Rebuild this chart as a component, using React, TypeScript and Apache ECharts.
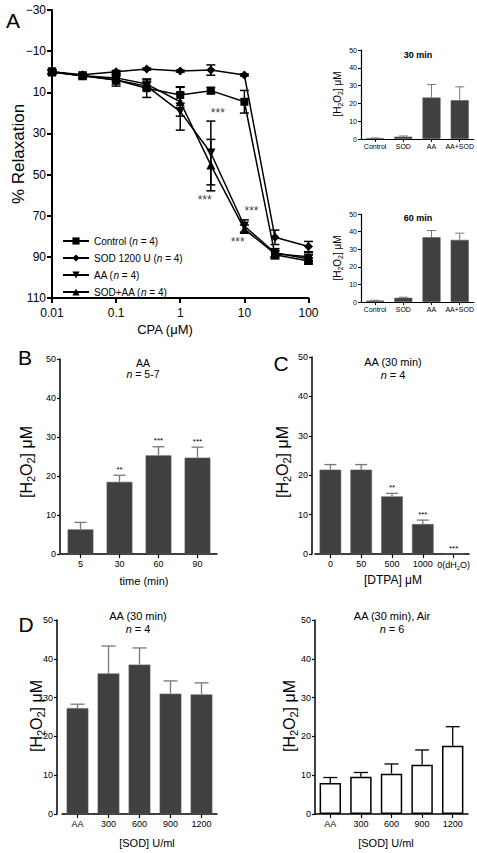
import React, { useEffect, useRef } from 'react';
import * as echarts from 'echarts';

// ---------- Panel A: relaxation curves ----------
const cpa = [0.01, 0.03, 0.1, 0.3, 1, 3, 10, 30, 100];
const controlMean = [0.3, 2, 4, 8, 11.3, 9.2, 14.6, 89, 92];
const controlErr = [1, 1, 2, 4.5, 4, 1.5, 5.5, 2, 1.5];
const sodMean = [0, 1.5, 0, -1.3, -0.3, -0.8, 1.6, 80.5, 85];
const sodErr = [0.8, 0.5, 0.6, 0.5, 0.5, 2.5, 0.5, 3.5, 2.5];
const aaMean = [0, 2, 4, 7, 19.4, 39.5, 75, 88, 91];
const aaErr = [1, 1, 3, 2, 9, 15.5, 3, 2, 2];
const sodAaMean = [0, 2, 3, 6, 14.6, 45.4, 76.5, 88.5, 90];
const sodAaErr = [1, 1, 1.5, 2, 7, 12.5, 2, 1.5, 2];
const relaxTicks = [-30, -10, 10, 30, 50, 70, 90, 110];
const starAX = [3.85, 2.4, 12.9, 7.85];
const starAY = [20, 62.5, 67.7, 82.8];

// ---------- Panel A insets ----------
const insetCats = ['Control', 'SOD', 'AA', 'AA+SOD'];
const inset30Mean = [0.4, 1.3, 23.3, 21.8];
const inset30Err = [0.2, 0.4, 7.3, 7.5];
const inset60Mean = [0.8, 2.4, 36.8, 35.3];
const inset60Err = [0.2, 0.3, 3.8, 3.8];

// ---------- Panel B ----------
const timeCats = ['5', '30', '60', '90'];
const timeMean = [6.3, 18.5, 25.3, 24.7];
const timeErr = [1.8, 1.7, 2.2, 2.7];
const timeSig = ['', '**', '***', '***'];

// ---------- Panel C ----------
const dtpaCats = ['0', '50', '500', '1000', '0(dH2O)'];
const dtpaMean = [21.4, 21.4, 14.6, 7.6, 0];
const dtpaErr = [1.3, 1.3, 0.8, 1.0, 0];
const dtpaSig = ['', '', '**', '***', '***'];

// ---------- Panel D ----------
const sodCats = ['AA', '300', '600', '900', '1200'];
const sodN2Mean = [27.3, 36.2, 38.5, 31.0, 30.8];
const sodN2Err = [1.0, 7.1, 4.3, 3.3, 3.0];
const sodAirMean = [8.0, 9.6, 10.4, 12.7, 17.6];
const sodAirErr = [1.4, 1.1, 2.5, 3.8, 4.9];

const FF = '"Liberation Sans", Arial, Helvetica, sans-serif';
const BAR = '#404040';
const ERRC = '#777777';

function txt(x: number, y: number, text: string, size: number, extra: any = {}) {
  const { rotate, bold, rich, ...rest } = extra;
  return {
    type: 'text',
    x,
    y,
    rotation: rotate ? Math.PI / 2 : 0,
    silent: true,
    style: {
      text,
      fontSize: size,
      fontFamily: FF,
      fontWeight: bold ? 'bold' : 'normal',
      fill: '#000',
      align: 'center',
      verticalAlign: 'middle',
      textAlign: 'center',
      textVerticalAlign: 'middle',
      rich: rich || {},
      ...rest,
    },
  };
}

function h2o2Label(x: number, y: number, size: number) {
  const sub = Math.round(size * 0.68);
  return txt(x, y, '[H{s|2}O{s|2}] μM', size, {
    rotate: true,
    lineHeight: size + 4,
    rich: { s: { fontSize: sub, fontFamily: FF, verticalAlign: 'bottom', lineHeight: size + 4, fill: '#000' } },
  });
}

function nLabel(x: number, y: number, rest: string, size: number) {
  return txt(x, y, '{i|n}' + rest, size, {
    rich: { i: { fontStyle: 'italic', fontSize: size, fontFamily: FF, fill: '#000' } },
  });
}

function errSeries(idx: number, xs: number[], mean: number[], err: number[], opts: any) {
  const { color, cap, lw, twoSided, sig, starSize } = opts;
  return {
    type: 'custom',
    xAxisIndex: idx,
    yAxisIndex: idx,
    silent: true,
    z: 3,
    encode: { x: 0, y: 1 },
    data: mean.map((m, i) => [xs[i], m, err[i]]),
    renderItem: (params: any, api: any) => {
      const x = api.value(0);
      const m = api.value(1);
      const e = api.value(2);
      const top = api.coord([x, m + e]);
      const base = api.coord([x, twoSided ? m - e : m]);
      const st = { stroke: color, lineWidth: lw };
      const children: any[] = [];
      if (e > 0) {
        children.push({ type: 'line', shape: { x1: top[0], y1: base[1], x2: top[0], y2: top[1] }, style: st });
        children.push({ type: 'line', shape: { x1: top[0] - cap, y1: top[1], x2: top[0] + cap, y2: top[1] }, style: st });
        if (twoSided) {
          children.push({ type: 'line', shape: { x1: base[0] - cap, y1: base[1], x2: base[0] + cap, y2: base[1] }, style: st });
        }
      }
      const s = sig ? sig[params.dataIndex] : '';
      if (s) {
        children.push({
          type: 'text',
          x: top[0],
          y: top[1] - 2,
          style: {
            text: s,
            fontSize: starSize,
            fontFamily: FF,
            fill: '#000',
            align: 'center',
            verticalAlign: 'bottom',
            textAlign: 'center',
            textVerticalAlign: 'bottom',
          },
        });
      }
      return { type: 'group', children };
    },
  };
}

function catAxis(idx: number, cats: string[], small: boolean, rich?: any, formatter?: any) {
  return {
    type: 'category',
    gridIndex: idx,
    data: cats,
    axisLine: { onZero: false, lineStyle: { color: '#000', width: small ? 1.2 : 1.5 } },
    axisTick: { show: true, alignWithLabel: true, interval: 0, length: small ? 3 : 4, lineStyle: { color: '#000', width: small ? 1 : 1.2 } },
    axisLabel: {
      interval: 0,
      fontSize: small ? 7 : 9,
      fontFamily: FF,
      color: '#000',
      margin: small ? 4 : 5,
      rich: rich || {},
      formatter: formatter,
    },
    splitLine: { show: false },
  };
}

function valAxis(idx: number, small: boolean, offset = 0) {
  return {
    type: 'value',
    gridIndex: idx,
    min: 0,
    max: 50,
    interval: 10,
    offset,
    axisLine: { show: true, lineStyle: { color: '#000', width: small ? 1.2 : 1.5 } },
    axisTick: { show: true, length: 3, lineStyle: { color: '#000', width: small ? 1 : 1.2 } },
    axisLabel: { fontSize: small ? 7 : 9, fontFamily: FF, color: '#000', margin: 4 },
    splitLine: { show: false },
  };
}

function barSeries(idx: number, mean: number[], width: string, white = false) {
  return {
    type: 'bar',
    xAxisIndex: idx,
    yAxisIndex: idx,
    data: mean,
    barWidth: width,
    silent: true,
    z: 2,
    itemStyle: white
      ? { color: '#fff', borderColor: '#000', borderWidth: 1.5 }
      : { color: BAR, borderColor: '#5a5a5a', borderWidth: 0.6 },
  };
}

function buildOption() {
  const idxs = (arr: any[]) => arr.map((_, i) => i);
  const lineSeries = (name: string, mean: number[], symbol: string, size: number, rotate = 0) => ({
    type: 'line',
    name,
    xAxisIndex: 0,
    yAxisIndex: 0,
    data: cpa.map((x, i) => [x, mean[i]]),
    symbol,
    symbolSize: size,
    symbolRotate: rotate,
    showSymbol: true,
    lineStyle: { color: '#000', width: 1.5 },
    itemStyle: { color: '#000' },
    z: 4,
    silent: true,
  });

  const subRich = { s: { fontSize: 6, fontFamily: FF, color: '#000', verticalAlign: 'bottom', lineHeight: 12 } };

  return {
    animation: false,
    backgroundColor: '#fff',
    textStyle: { fontFamily: FF },
    grid: [
      { left: 52, top: 10, width: 256.5, height: 288 },
      { left: 361, top: 50, width: 113, height: 89 },
      { left: 361, top: 214, width: 113, height: 88 },
      { left: 61, top: 359, width: 156, height: 195 },
      { left: 315, top: 357, width: 154, height: 197 },
      { left: 62, top: 620, width: 155, height: 194 },
      { left: 315, top: 620, width: 153, height: 194 },
    ],
    xAxis: [
      {
        type: 'log',
        gridIndex: 0,
        min: 0.01,
        max: 100,
        logBase: 10,
        axisLine: { onZero: false, lineStyle: { color: '#000', width: 2 } },
        axisTick: { show: true, length: 5, lineStyle: { color: '#000', width: 2 } },
        minorTick: { show: false },
        axisLabel: {
          fontSize: 12,
          fontFamily: FF,
          color: '#000',
          margin: 9,
          formatter: (v: number) => String(+Number(v).toPrecision(3)),
        },
        splitLine: { show: false },
      },
      catAxis(1, insetCats, true),
      catAxis(2, insetCats, true),
      catAxis(3, timeCats, false),
      catAxis(4, dtpaCats, false, subRich, (v: string) => (v === '0(dH2O)' ? '0(dH{s|2}O)' : v)),
      catAxis(5, sodCats, false),
      catAxis(6, sodCats, false),
    ],
    yAxis: [
      {
        type: 'value',
        gridIndex: 0,
        inverse: true,
        min: -30,
        max: 110,
        axisLine: { show: true, lineStyle: { color: '#000', width: 2 } },
        axisTick: { show: true, length: 5, customValues: relaxTicks, lineStyle: { color: '#000', width: 2 } },
        axisLabel: {
          customValues: relaxTicks,
          fontSize: 12,
          fontFamily: FF,
          color: '#000',
          margin: 6,
          formatter: (v: number) => (v < 0 ? '\u2212' + Math.abs(v) : String(v)),
        },
        splitLine: { show: false },
      },
      valAxis(1, true),
      valAxis(2, true),
      valAxis(3, false, 1),
      valAxis(4, false, 3),
      valAxis(5, false, 5),
      valAxis(6, false, 0),
    ],
    legend: {
      data: ['Control', 'SOD 1200 U', 'AA', 'SOD+AA'],
      orient: 'vertical',
      left: 57,
      top: 231,
      itemWidth: 26,
      itemHeight: 9,
      itemGap: 7,
      selectedMode: false,
      textStyle: {
        fontSize: 10,
        fontFamily: FF,
        color: '#000',
        lineHeight: 10,
        rich: { i: { fontStyle: 'italic', fontSize: 10, fontFamily: FF, color: '#000' } },
      },
      formatter: (n: string) => `${n} ({i|n} = 4)`,
    },
    series: [
      errSeries(0, cpa, controlMean, controlErr, { color: '#000', cap: 4.5, lw: 1.5, twoSided: true }),
      errSeries(0, cpa, sodMean, sodErr, { color: '#000', cap: 4.5, lw: 1.5, twoSided: true }),
      errSeries(0, cpa, aaMean, aaErr, { color: '#000', cap: 4.5, lw: 1.5, twoSided: true }),
      errSeries(0, cpa, sodAaMean, sodAaErr, { color: '#000', cap: 4.5, lw: 1.5, twoSided: true }),
      lineSeries('Control', controlMean, 'rect', 8),
      lineSeries('SOD 1200 U', sodMean, 'diamond', 9),
      lineSeries('AA', aaMean, 'triangle', 9, 180),
      lineSeries('SOD+AA', sodAaMean, 'triangle', 9),
      {
        type: 'scatter',
        xAxisIndex: 0,
        yAxisIndex: 0,
        data: starAX.map((x, i) => [x, starAY[i]]),
        symbolSize: 1,
        itemStyle: { color: 'transparent' },
        silent: true,
        z: 5,
        label: { show: true, position: 'inside', formatter: '***', fontSize: 12, fontFamily: FF, color: '#000' },
      },
      barSeries(1, inset30Mean, '64%'),
      errSeries(1, idxs(insetCats), inset30Mean, inset30Err, { color: ERRC, cap: 4.5, lw: 1 }),
      barSeries(2, inset60Mean, '64%'),
      errSeries(2, idxs(insetCats), inset60Mean, inset60Err, { color: ERRC, cap: 4.5, lw: 1 }),
      barSeries(3, timeMean, '66%'),
      errSeries(3, idxs(timeCats), timeMean, timeErr, { color: ERRC, cap: 6, lw: 1.3, sig: timeSig, starSize: 8 }),
      barSeries(4, dtpaMean, '70%'),
      errSeries(4, idxs(dtpaCats), dtpaMean, dtpaErr, { color: ERRC, cap: 6, lw: 1.3, sig: dtpaSig, starSize: 8 }),
      barSeries(5, sodN2Mean, '70%'),
      errSeries(5, idxs(sodCats), sodN2Mean, sodN2Err, { color: ERRC, cap: 7, lw: 1.3 }),
      barSeries(6, sodAirMean, '70%', true),
      errSeries(6, idxs(sodCats), sodAirMean, sodAirErr, { color: '#000', cap: 7, lw: 1.3 }),
    ],
    graphic: {
      elements: [
        txt(13, 20, 'A', 21),
        txt(18, 154, '% Relaxation', 17, { rotate: true }),
        txt(165, 329, 'CPA (μM)', 13),
        txt(418, 55, '30 min', 9, { bold: true }),
        h2o2Label(337, 94, 10),
        txt(418, 218, '60 min', 9, { bold: true }),
        h2o2Label(337, 258, 10),
        txt(25, 357, 'B', 21),
        txt(143, 363, 'AA', 10.5),
        nLabel(143, 374, ' = 5-7', 10.5),
        h2o2Label(26, 462, 16),
        txt(144, 581, 'time (min)', 11),
        txt(281, 363, 'C', 21),
        txt(393, 362, 'AA (30 min)', 11),
        nLabel(393, 375, ' = 4', 11),
        h2o2Label(282, 462, 16),
        txt(393, 580, '[DTPA] μM', 12),
        txt(26, 624, 'D', 21),
        txt(138, 616, 'AA (30 min)', 11),
        nLabel(138, 629, ' = 4', 11),
        h2o2Label(36, 716, 16),
        txt(147, 843, '[SOD] U/ml', 11),
        txt(392, 616, 'AA (30 min), Air', 11),
        nLabel(392, 629, ' = 6', 11),
        h2o2Label(289, 716, 16),
        txt(386, 843, '[SOD] U/ml', 11),
      ],
    },
  };
}

export default function App() {
  const ref = useRef<HTMLDivElement>(null);
  useEffect(() => {
    const chart = echarts.init(ref.current!, null, { renderer: 'svg' });
    chart.setOption(buildOption() as any);
    return () => chart.dispose();
  }, []);
  return (
    <div
      ref={ref}
      style={{ position: 'absolute', left: 0, top: 0, width: 477, height: 853, background: '#fff' }}
    />
  );
}
